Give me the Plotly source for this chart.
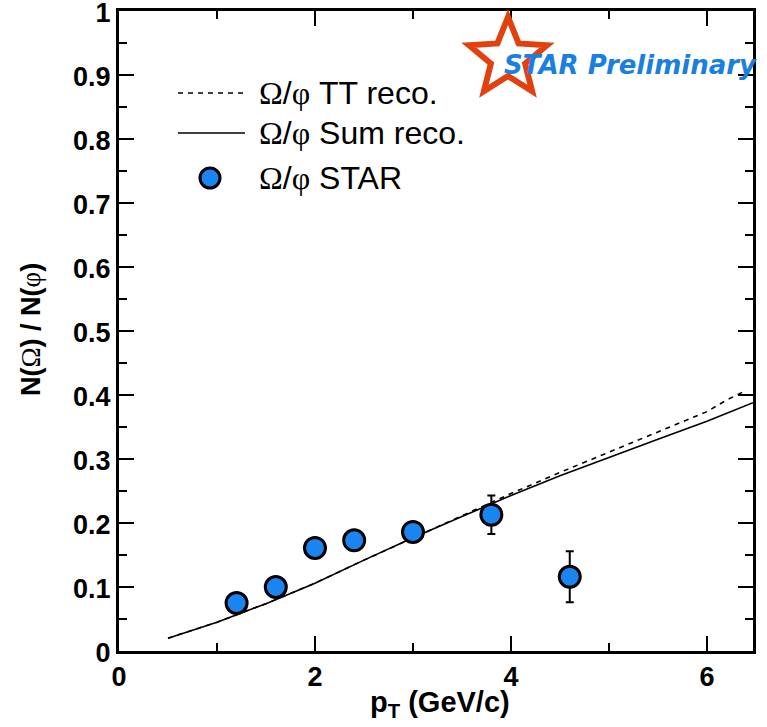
import plotly.graph_objects as go
import math

# ---- data ----
star_pt = [1.2, 1.6, 2.0, 2.4, 3.0, 3.8, 4.6]
star_ratio = [0.075, 0.100, 0.161, 0.173, 0.186, 0.213, 0.116]
star_err = [0.008, 0.008, 0.010, 0.010, 0.012, 0.030, 0.040]

sum_pt = [0.5, 1.0, 1.5, 2.0, 2.5, 3.0, 3.5, 4.0, 4.5, 5.0, 5.5, 6.0, 6.47]
sum_ratio = [0.020, 0.045, 0.074, 0.106, 0.142, 0.177, 0.210, 0.243, 0.274, 0.303, 0.331, 0.359, 0.388]

tt_pt = [0.5, 1.0, 1.5, 2.0, 2.5, 3.0, 3.5, 4.0, 4.5, 5.0, 5.5, 6.0, 6.2, 6.37]
tt_ratio = [0.020, 0.045, 0.074, 0.106, 0.142, 0.177, 0.211, 0.246, 0.279, 0.311, 0.342, 0.374, 0.392, 0.405]

legend_labels = ["Ω/φ TT reco.", "Ω/φ Sum reco.", "Ω/φ STAR"]

# ---- layout geometry (pixels) ----
W, H = 767, 727
L, R, T, B = 119, 753, 11, 651
PW, PH = R - L, B - T


def px(x):
    return (x - L) / PW


def py(y):
    return (B - y) / PH


BLUE = "#1a84f0"

fig = go.Figure()
fig.add_trace(go.Scatter(x=tt_pt, y=tt_ratio, mode="lines",
                         line=dict(color="black", width=1.6, dash="5px,5px"),
                         showlegend=False, hoverinfo="skip"))
fig.add_trace(go.Scatter(x=sum_pt, y=sum_ratio, mode="lines",
                         line=dict(color="black", width=1.6),
                         showlegend=False, hoverinfo="skip"))
fig.add_trace(go.Scatter(x=star_pt, y=star_ratio, mode="markers",
                         marker=dict(color=BLUE, size=21, line=dict(color="black", width=3)),
                         error_y=dict(type="data", array=star_err, color="black",
                                      thickness=2, width=4),
                         showlegend=False, hoverinfo="skip"))

axis_common = dict(showline=True, linecolor="black", linewidth=3, mirror="ticks",
                   ticks="inside", ticklen=15, tickwidth=2, tickcolor="black",
                   showgrid=False, zeroline=False, automargin=False,
                   ticklabeloverflow="allow",
                   tickfont=dict(family="Liberation Sans", size=27, color="black", weight="bold"))

fig.update_xaxes(range=[0, 6.47], dtick=2, tick0=0,
                 minor=dict(dtick=1, ticks="inside", ticklen=8, tickwidth=2, tickcolor="black"),
                 **axis_common)
fig.update_yaxes(range=[0, 1], dtick=0.1, tick0=0, ticklabelshift=2,
                 minor=dict(dtick=0.05, ticks="inside", ticklen=8, tickwidth=2, tickcolor="black"),
                 **axis_common)

serif = "font-family:Liberation Serif;fill:black"


def greekify(s):
    return s.replace("Ω", f"<span style='{serif}'>Ω</span>").replace("φ", f"<span style='{serif}'>φ</span>")


annotations = []
shapes = []
leg_y = [93, 133, 178]
for lab, yy in zip(legend_labels, leg_y):
    annotations.append(dict(x=px(257), y=py(yy), xref="paper", yref="paper",
                            text=greekify(lab), showarrow=False, xanchor="left", yanchor="middle",
                            font=dict(family="Liberation Sans", size=32, color="black")))
shapes.append(dict(type="line", xref="paper", yref="paper", x0=px(178), x1=px(245),
                   y0=py(leg_y[0]), y1=py(leg_y[0]), line=dict(color="black", width=1.6, dash="5px,5px")))
shapes.append(dict(type="line", xref="paper", yref="paper", x0=px(178), x1=px(245),
                   y0=py(leg_y[1]), y1=py(leg_y[1]), line=dict(color="black", width=1.6)))
shapes.append(dict(type="circle", xref="paper", yref="paper", x0=px(200), x1=px(220),
                   y0=py(leg_y[2] + 10), y1=py(leg_y[2] - 10), fillcolor=BLUE,
                   line=dict(color="black", width=3)))

# STAR logo star outline
cx, cy, Ro, Ri = 508, 58, 41, 18
pts = []
for k in range(10):
    ang = math.radians(90 + 36 * k)
    rr = Ro if k % 2 == 0 else Ri
    pts.append((cx + rr * math.cos(ang), cy - rr * math.sin(ang)))
path = "M " + " L ".join(f"{px(a):.5f},{py(b):.5f}" for a, b in pts) + " Z"
shapes.append(dict(type="path", xref="paper", yref="paper", path=path,
                   line=dict(color="#e2400e", width=6), fillcolor="rgba(0,0,0,0)"))

annotations.append(dict(x=px(502), y=py(65), xref="paper", yref="paper",
                        text="STAR Preliminary", showarrow=False, xanchor="left", yanchor="middle",
                        font=dict(family="DejaVu Sans", size=26, color="#1a7fe0",
                                  weight="bold", style="italic")))

# axis titles
annotations.append(dict(x=px(440), y=py(704), xref="paper", yref="paper",
                        text="<b>p<sub>T</sub> (GeV/c)</b>", showarrow=False,
                        xanchor="center", yanchor="middle",
                        font=dict(family="Liberation Sans", size=29, color="black")))
annotations.append(dict(x=px(31), y=py(330), xref="paper", yref="paper",
                        text=f"<b>N(</b><span style='{serif}'>Ω</span><b>) / N(</b><span style='{serif}'>φ</span><b>)</b>",
                        showarrow=False, textangle=-90, xanchor="center", yanchor="middle",
                        font=dict(family="Liberation Sans", size=27, color="black")))

fig.update_layout(width=W, height=H, margin=dict(l=L, r=W - R, t=T, b=H - B),
                  plot_bgcolor="white", paper_bgcolor="white", hovermode=False,
                  annotations=annotations, shapes=shapes, showlegend=False)

fig.write_html("out.html", config={"displayModeBar": False, "staticPlot": True},
               post_script="document.body.style.margin='0';document.body.style.overflow='hidden';")
